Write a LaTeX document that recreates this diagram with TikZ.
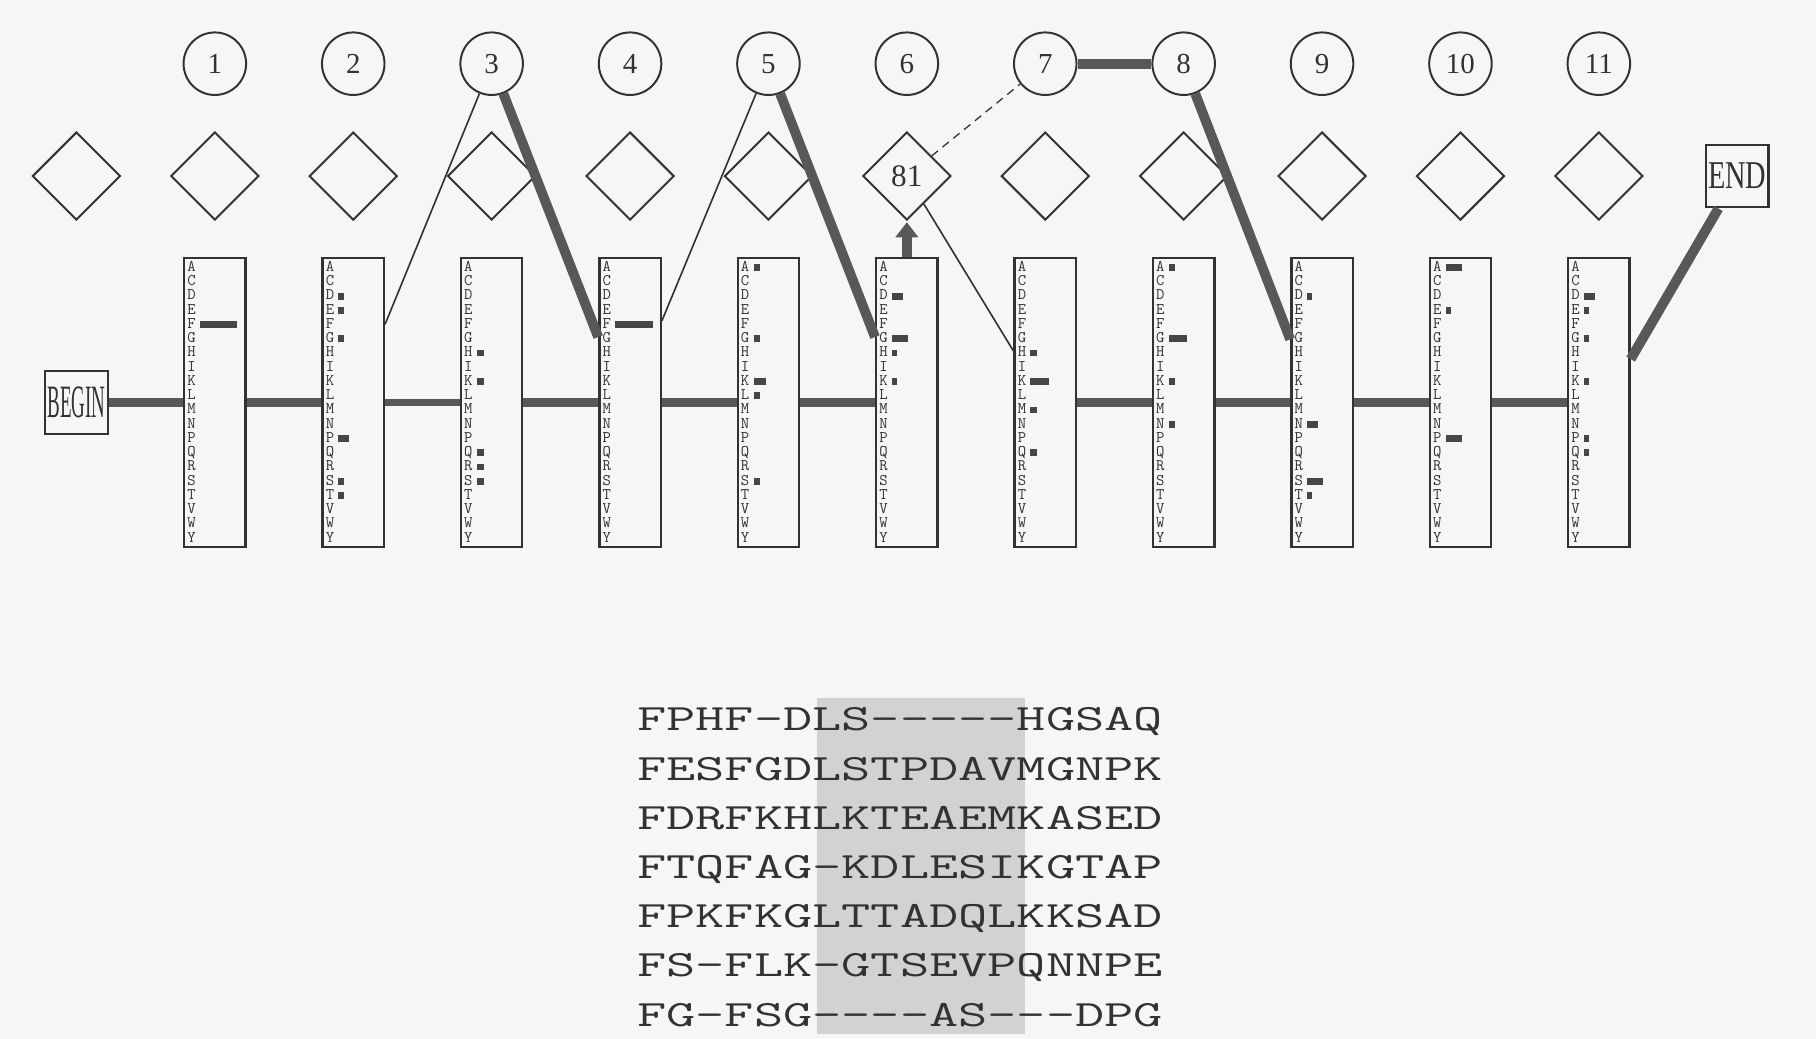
\documentclass[tikz,border=0pt]{standalone}
\usepackage{fontspec}
\setmainfont{Liberation Serif}
\usetikzlibrary{shapes.geometric, arrows.meta, positioning, calc}
\definecolor{inkgrey}{RGB}{50, 50, 50}
\definecolor{pathgrey}{RGB}{88, 88, 88}
\definecolor{bargrey}{RGB}{70, 70, 70}
\definecolor{shadegrey}{RGB}{210, 210, 210}
\definecolor{papergrey}{RGB}{246, 246, 246}

\tikzset{
  delstate/.style={circle, draw=inkgrey, line width=1.7pt, minimum size=54pt, inner sep=0pt, text=inkgrey, font=\fontsize{25}{25}\selectfont},
  insstate/.style={diamond, draw=inkgrey, line width=1.7pt, minimum width=76pt, minimum height=76pt, inner sep=0pt, text=inkgrey, font=\fontsize{27}{27}\selectfont},
  matchstate/.style={rectangle, draw=inkgrey, line width=2pt, minimum width=53pt, minimum height=249pt, inner sep=0pt},
  termstate/.style={rectangle, draw=inkgrey, line width=2pt, minimum size=54pt, inner sep=0pt, text=inkgrey},
  residue/.style={anchor=base, inner sep=0pt, text=inkgrey, font=\fontsize{14}{14}\selectfont\ttfamily},
  seqline/.style={anchor=base west, inner sep=0pt, text=inkgrey, font=\fontsize{32}{32}\selectfont\ttfamily},
  heavy/.style={draw=pathgrey, line width=8.5pt},
  light/.style={draw=inkgrey, line width=1.4pt},
}

\begin{document}
\begin{tikzpicture}[x=1pt, y=-1pt, node distance=119.5pt and 119.5pt, on grid]
\fill[papergrey] (0,0) rectangle (1568,897);
\useasboundingbox (0,0) rectangle (1568,897);

% delete states
\node[delstate] (d1) at (185.5,55) {1};
\foreach \i [remember=\i as \j (initially 1)] in {2,...,11}
  \node[delstate, right=of d\j] (d\i) {\i};

% insert states
\node[insstate] (i0) at (66,152) {};
\foreach \i [remember=\i as \j (initially 0)] in {1,...,11}
  \node[insstate, right=of i\j] (i\i) {\ifnum\i=6 81\fi};

% match states
\node[matchstate] (m1) at (185.5,347.5) {};
\foreach \i [remember=\i as \j (initially 1)] in {2,...,11}
  \node[matchstate, right=of m\j] (m\i) {};
\node[termstate, left=of m1] (begin) {\scalebox{0.41}[1]{\fontsize{40}{40}\selectfont BEGIN}};
\node[termstate, right=of i11] (end) {\scalebox{0.72}[1]{\fontsize{34}{34}\selectfont END}};

% residue columns
\foreach \k in {1,...,11}
  \foreach \aa [count=\r from 0] in {A,C,D,E,F,G,H,I,K,L,M,N,P,Q,R,S,T,V,W,Y}
    \node[residue] (r\k\aa) at ($(m\k.north west)+(7.4,12.3+12.3*\r)$) {\aa};

% emission bars (box/row/width)
\foreach \k/\r/\w in {1/4/32.4,
    2/2/4.6, 2/3/4.6, 2/5/4.6, 2/12/9.3, 2/15/4.6, 2/16/4.6,
    3/6/6.5, 3/8/6.5, 3/13/6.5, 3/14/6.5, 3/15/6.5,
    4/4/32.4,
    5/0/5.4, 5/5/5.4, 5/8/10.8, 5/9/5.4, 5/15/5.4,
    6/2/9.3, 6/5/13.9, 6/6/4.6, 6/8/4.6,
    7/6/5.4, 7/8/16.2, 7/10/5.4, 7/13/5.4,
    8/0/5.4, 8/5/16.2, 8/8/5.4, 8/11/5.4,
    9/2/4.6, 9/11/9.3, 9/15/13.9, 9/16/4.6,
    10/0/13.9, 10/3/4.6, 10/12/13.9,
    11/2/9.3, 11/3/4.6, 11/5/4.6, 11/8/4.6, 11/12/4.6, 11/13/4.6}
  \fill[bargrey] ($(m\k.north west)+(14.6,6+12.3*\r)$) rectangle ++(\w,6);

% transitions
\draw[heavy] (begin) -- (m1);
\foreach \a/\b in {1/2, 3/4, 4/5, 5/6, 7/8, 8/9, 9/10, 10/11}
  \draw[heavy] (m\a) -- (m\b);
\draw[heavy, line width=6pt] (m2) -- (m3);
\draw[light] ([yshift=-58pt]m2.north east) -- (d3);
\draw[heavy] (d3) -- ([yshift=-69pt]m4.north west);
\draw[light] ([yshift=-55pt]m4.north east) -- (d5);
\draw[heavy] (d5) -- ([yshift=-69pt]m6.north west);
\draw[heavy, -{Triangle[length=13pt, width=19pt]}, shorten >=1pt] (m6) -- (i6);
\draw[light] (i6) -- ([yshift=-81pt]m7.north west);
\draw[draw=inkgrey, line width=1.1pt, dash pattern=on 7pt off 5pt] (i6) -- (d7);
\draw[heavy] (d7) -- (d8);
\draw[heavy] (d8) -- ([yshift=-71pt]m9.north west);
\draw[heavy] ([yshift=-88pt]m11.north east) -- (end);

% alignment
\fill[shadegrey] (705,603) rectangle (885,893);
\foreach \s [count=\n from 0] in {FPHF-DLS-----HGSAQ, FESFGDLSTPDAVMGNPK, FDRFKHLKTEAEMKASED,
    FTQFAG-KDLESIKGTAP, FPKFKGLTTADQLKKSAD, FS-FLK-GTSEVPQNNPE, FG-FSG----AS---DPG}
  \node[seqline] (seq\n) at (550,631+42.5*\n) {\scalebox{1.53}[1]{\s}};
\end{tikzpicture}
\end{document}
